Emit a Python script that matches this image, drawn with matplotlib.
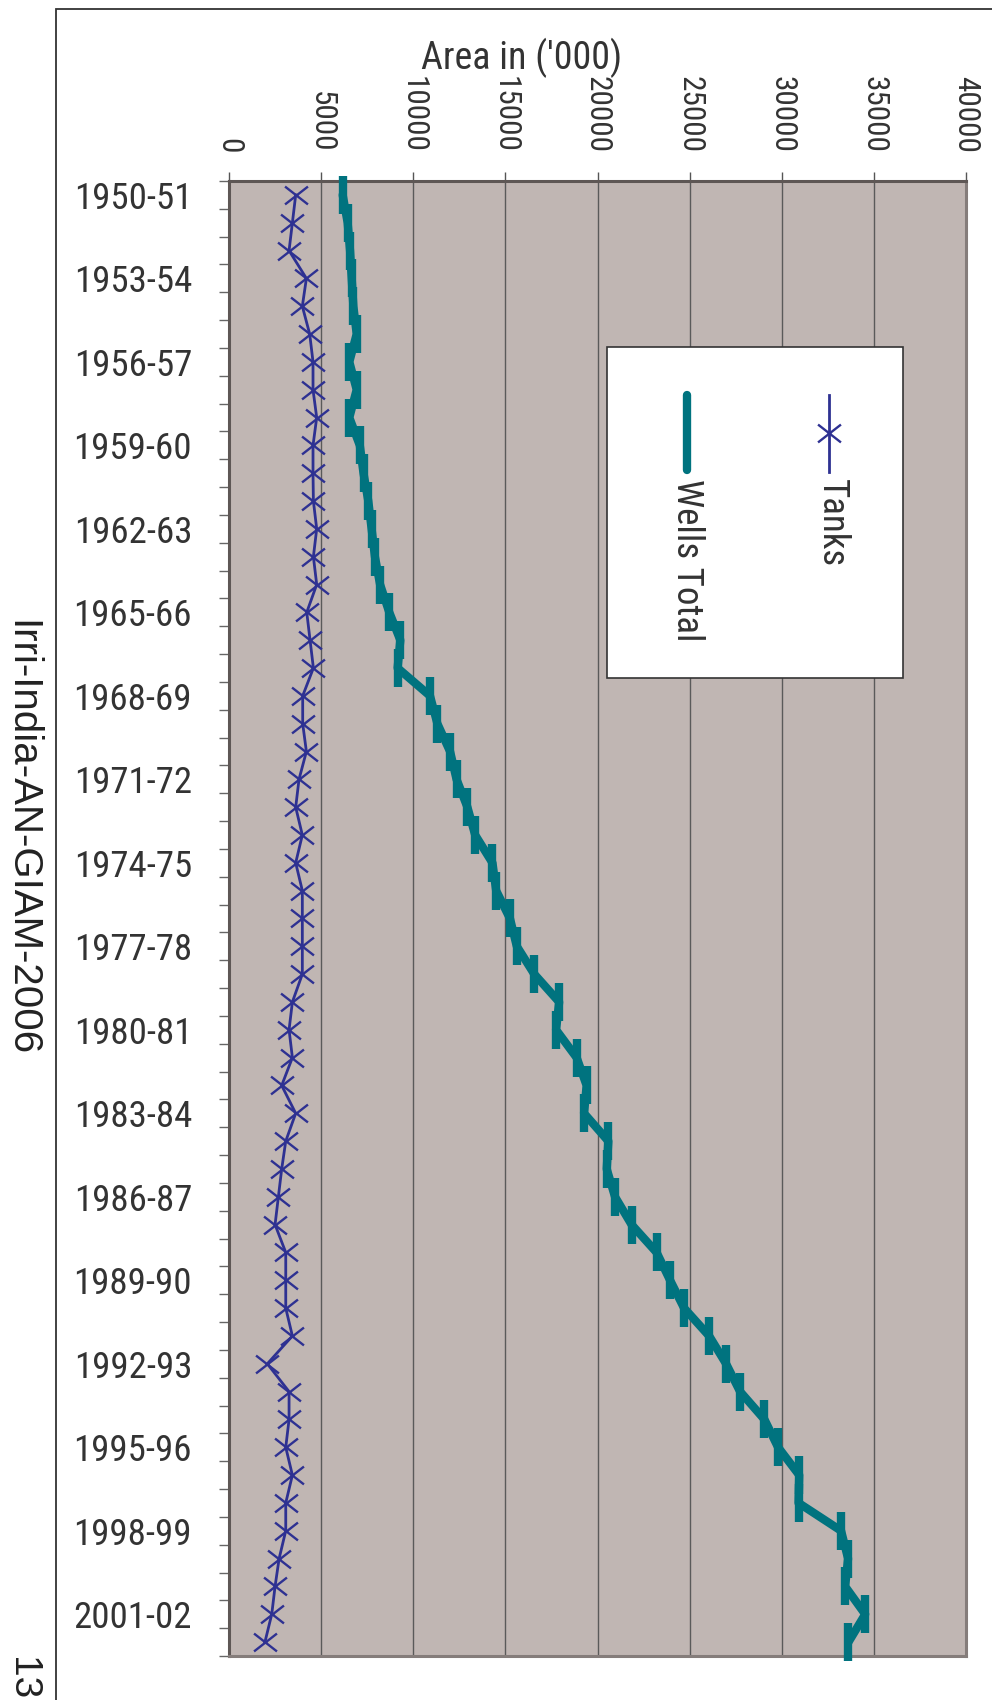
import numpy as np
import matplotlib
matplotlib.use("Agg")
import matplotlib.pyplot as plt
from matplotlib.path import Path
from matplotlib.patches import Rectangle
from matplotlib.lines import Line2D
from matplotlib.textpath import TextPath
from matplotlib.font_manager import FontProperties
import matplotlib.font_manager as fm

# ---------------- data ----------------
categories = [f"{y}-{(y + 1) % 100:02d}" for y in range(1950, 2003)]
tanks = [3620, 3440, 3260, 4200, 3980, 4380, 4560, 4560, 4760, 4560,
         4560, 4580, 4760, 4580, 4760, 4220, 4400, 4580, 4000, 4000,
         4200, 3800, 3620, 3980, 3620, 3980, 3980, 3980, 3980, 3440,
         3260, 3440, 2860, 3620, 3080, 2860, 2680, 2500, 3080, 3080,
         3080, 3440, 2080, 3260, 3260, 3080, 3440, 3080, 3080, 2720,
         2500, 2320, 1950]
wells_total = [6170, 6440, 6570, 6660, 6750, 6930, 6530, 6930, 6530, 7100,
               7300, 7560, 7740, 7920, 8200, 8700, 9300, 9150, 10910, 11310,
               12000, 12350, 12940, 13360, 14300, 14500, 15250, 15620, 16570, 17920,
               17750, 18870, 19410, 19270, 20590, 20500, 20950, 21850, 23210, 23940,
               24700, 26060, 26980, 27740, 29060, 29800, 30950, 30910, 33220, 33600,
               33440, 34530, 33620]
value_ticks = [0, 5000, 10000, 15000, 20000, 25000, 30000, 35000, 40000]
series_names = ["Tanks", "Wells Total"]
axis_title = "Area in ('000)"
side_text = "Irri-India-AN-GIAM-2006"
page_no = "13"

# ---------------- fonts ----------------
ttfs = fm.fontManager.ttflist
narrow_prop = None
for nm in ["Liberation Sans Narrow", "Roboto Condensed", "Noto Sans Condensed",
           "Open Sans Condensed", "DejaVu Sans Condensed"]:
    hit = [f for f in ttfs if f.name == nm and f.weight in (400, "normal", "regular")
           and f.style == "normal"]
    if hit:
        narrow_prop = FontProperties(fname=hit[0].fname)
        break
if narrow_prop is None:
    for f in ttfs:
        st = str(f.stretch)
        if ("condensed" in st and "extra" not in st and "ultra" not in st
                and f.style == "normal" and f.weight in (400, "normal", "regular")
                and f.name in ("Noto Sans", "Open Sans", "Roboto", "DejaVu Sans", "Lato", "Inter")):
            narrow_prop = FontProperties(fname=f.fname)
            break
if narrow_prop is None:
    narrow_prop = FontProperties(family="DejaVu Sans")

names = {f.name for f in ttfs}
SANS = "Liberation Sans" if "Liberation Sans" in names else "DejaVu Sans"


def fit_size(text, width_px, height_px, prop, ref_char="0", slack=1.0):
    """font size (pt) so that text fits the measured size in the reference"""
    tp_w = TextPath((0, 0), text, size=1, prop=prop).get_extents().width
    tp_h = TextPath((0, 0), ref_char, size=1, prop=prop).get_extents().height
    s_w = width_px * 0.72 / tp_w * slack
    s_h = height_px * 0.72 / tp_h
    return min(s_w, s_h)


size_vals = fit_size("10000", 73, 26, narrow_prop)
size_years = fit_size("1950-51", 129, 27, narrow_prop, slack=1.1)
size_legend = fit_size("Wells Total", 159, 31, narrow_prop, ref_char="W")
size_title = fit_size(axis_title, 222, 27, narrow_prop, ref_char="A")


def fp(size):
    p = narrow_prop.copy()
    p.set_size(size)
    return p


NAVY = "#2E3192"
TEAL = "#00737F"
BG = "#C0B6B3"
TXT = "#333333"

W, H = 992, 1700
fig = plt.figure(figsize=(W / 100, H / 100), dpi=100)
fig.patch.set_facecolor("white")


def fx(px):
    return px / W


def fy(py):
    return 1 - py / H


# outer page frame
fig.add_artist(Rectangle((fx(56), fy(1720)), fx(1010) - fx(56), fy(9) - fy(1720),
                         transform=fig.transFigure, fill=False,
                         edgecolor="#333333", lw=1.3))

ax = fig.add_axes([fx(229), fy(1656), fx(966) - fx(229), fy(181) - fy(1656)])
ax.set_facecolor(BG)

idx = np.arange(len(categories))
xmark = Path([(-1, -0.78), (1, 0.78), (-1, 0.78), (1, -0.78)],
             [Path.MOVETO, Path.LINETO, Path.MOVETO, Path.LINETO])

ax.plot(tanks, idx, color=NAVY, lw=2.0, marker=xmark, ms=16.5, mew=1.7,
        mec=NAVY, zorder=3)
ax.plot(wells_total, idx, color=TEAL, lw=6, marker="|", ms=27, mew=6,
        solid_joinstyle="round", solid_capstyle="round", zorder=4, clip_on=False)

ax.set_xlim(0, 40000)
ax.set_ylim(len(categories) - 0.5, -0.5)

ax.set_xticks(value_ticks)
ax.set_xticklabels([str(v) for v in value_ticks], fontproperties=fp(size_vals))
ax.xaxis.tick_top()
ax.tick_params(axis="x", which="major", direction="out", length=6.5, width=1,
               color="#555555", pad=13.7, labelrotation=-90, labelcolor=TXT)
ax.grid(axis="x", color="#5a5a5a", lw=1)
ax.set_axisbelow(True)

ax.set_yticks(idx[::3])
ax.set_yticklabels(categories[::3], fontproperties=fp(size_years))
ax.tick_params(axis="y", which="major", length=0, pad=26.6, labelcolor=TXT)
ax.set_yticks(np.arange(-0.5, len(categories), 1), minor=True)
ax.tick_params(axis="y", which="minor", length=7.2, width=1,
               color="#666666", direction="out")

for s in ["bottom", "right"]:
    ax.spines[s].set_color("#857d7b")
    ax.spines[s].set_linewidth(2.2)
for s in ["top", "left"]:
    ax.spines[s].set_color("#5e5755")
    ax.spines[s].set_linewidth(2.2)

# axis title
fig.text(fx(522), fy(58), axis_title, ha="center", va="center",
         fontproperties=fp(size_title), color=TXT)

# legend box
fig.add_artist(Rectangle((fx(607), fy(678)), fx(903) - fx(607), fy(347) - fy(678),
                         transform=fig.transFigure, facecolor="white",
                         edgecolor="#333333", lw=1.2, zorder=5))
fig.add_artist(Line2D([fx(829), fx(829)], [fy(395), fy(472)],
                      transform=fig.transFigure, color=NAVY, lw=2.0, zorder=6))
fig.add_artist(Line2D([fx(829)], [fy(433)], transform=fig.transFigure,
                      marker=xmark, ms=16.5, mew=1.7, color=NAVY, lw=0, zorder=6))
fig.text(fx(832), fy(479), series_names[0], rotation=-90, ha="center", va="top",
         fontproperties=fp(size_legend), color=TXT, zorder=7)
fig.add_artist(Line2D([fx(687), fx(687)], [fy(395), fy(470)],
                      transform=fig.transFigure, color=TEAL, lw=6,
                      solid_capstyle="round", zorder=6))
fig.text(fx(687), fy(479), series_names[1], rotation=-90, ha="center", va="top",
         fontproperties=fp(size_legend), color=TXT, zorder=7)

# side texts
fig.text(fx(21), fy(838), side_text, rotation=-90, ha="center", va="center",
         fontsize=29, family=SANS, color="#222222")
fig.text(fx(22), fy(1657), page_no, rotation=-90, ha="center", va="top",
         fontsize=28, family=SANS, color="#222222")

fig.savefig("out.png", dpi=100, facecolor="white")
